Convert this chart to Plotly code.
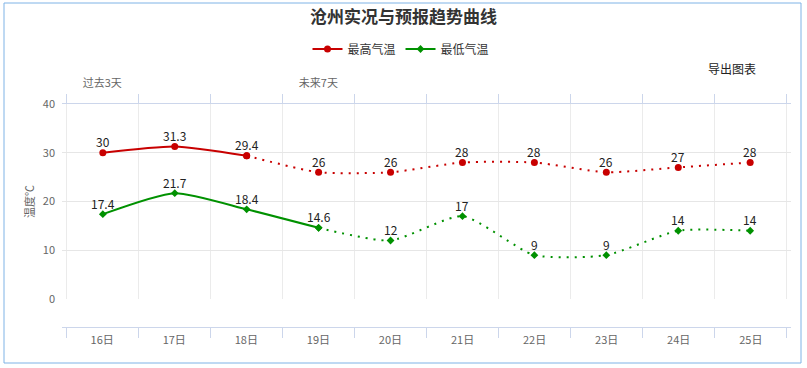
import plotly.graph_objects as go

days = ["16日", "17日", "18日", "19日", "20日", "21日", "22日", "23日", "24日", "25日"]
top_labels = ["过去3天", "", "", "未来7天", "", "", "", "", "", ""]
t_max = [30, 31.3, 29.4, 26, 26, 28, 28, 26, 27, 28]
t_min = [17.4, 21.7, 18.4, 14.6, 12, 17, 9, 9, 14, 14]
max_obs_end = 3   # observed points for max (indices 0..2)
min_obs_end = 4   # observed points for min (indices 0..3)

RED = "#c80000"
GREEN = "#009100"
FONT = "Noto Sans CJK SC"
SMOOTH = 0.6
DOT = "2px,6px"

L, R, T, B = 62, 16, 104, 41
PW = 807 - L - R
PH = 368 - T - B

fig = go.Figure()
annotations = []

def add_series(vals, obs_end, color, name, msym, msize):
    fig.add_trace(go.Scatter(
        x=days[:obs_end], y=vals[:obs_end], mode="lines+markers",
        name=name, legendgroup=name, showlegend=True,
        line=dict(color=color, width=2, shape="spline", smoothing=SMOOTH),
        marker=dict(color=color, size=msize, symbol=msym),
        cliponaxis=False, hoverinfo="x+y"))
    fig.add_trace(go.Scatter(
        x=days[obs_end - 1:], y=vals[obs_end - 1:], mode="lines+markers",
        name=name, legendgroup=name, showlegend=False,
        line=dict(color=color, width=2, shape="spline", smoothing=SMOOTH, dash=DOT),
        marker=dict(color=color, size=msize, symbol=msym),
        cliponaxis=False, hoverinfo="x+y"))
    for d, v in zip(days, vals):
        annotations.append(dict(x=d, y=v, xref="x", yref="y", text=str(v),
                                showarrow=False, yshift=11,
                                font=dict(size=12, color="#222", family=FONT)))

add_series(t_max, max_obs_end, RED, "最高气温", "circle", 7)
add_series(t_min, min_obs_end, GREEN, "最低气温", "diamond", 6)

# invisible traces to activate the top axis and the offset bottom axis
fig.add_trace(go.Scatter(x=days, y=t_max, xaxis="x2", mode="markers",
                         marker=dict(opacity=0), showlegend=False, hoverinfo="skip"))
fig.add_trace(go.Scatter(x=days, y=t_max, xaxis="x3", mode="markers",
                         marker=dict(opacity=0), showlegend=False, hoverinfo="skip"))

annotations.append(dict(text="导出图表", xref="paper", yref="paper",
                        x=(732 - L) / PW, y=1 + (T - 68) / PH,
                        xanchor="center", yanchor="middle",
                        showarrow=False, font=dict(size=12, color="#222", family=FONT)))

cat = dict(type="category", categoryorder="array", categoryarray=days,
           tickson="boundaries", automargin=False, fixedrange=True)

fig.update_layout(
    width=807, height=368,
    margin=dict(l=L, r=R, t=T, b=B, autoexpand=False),
    paper_bgcolor="white", plot_bgcolor="white",
    font=dict(family=FONT, size=11, color="#666"),
    title=dict(text="<b>沧州实况与预报趋势曲线</b>", x=0.5, xanchor="center",
               y=1 - 17 / 368, yanchor="middle",
               font=dict(size=17, color="#333", family=FONT)),
    legend=dict(orientation="h", x=(401 - L) / PW, xanchor="center",
                y=1 + 55 / PH, yanchor="middle",
                font=dict(size=12, color="#333", family=FONT), itemwidth=30,
                traceorder="normal"),
    xaxis=dict(**cat, anchor="y", showticklabels=False, ticks="",
               showline=False, showgrid=True, gridcolor="#ebebeb", gridwidth=1),
    xaxis2=dict(**cat, overlaying="x", side="top", anchor="y",
                tickmode="array", tickvals=days, ticktext=top_labels,
                ticks="outside", ticklen=9, tickcolor="#ccd6eb",
                showline=True, linecolor="#ccd6eb", linewidth=1,
                showgrid=False, ticklabelstandoff=12,
                tickfont=dict(size=11, color="#666")),
    xaxis3=dict(**cat, overlaying="x", anchor="free", position=0, side="bottom",
                ticks="outside", ticklen=10, tickcolor="#ccd6eb",
                showline=True, linecolor="#ccd6eb", linewidth=1, ticklabelstandoff=3,
                showgrid=False, tickfont=dict(size=11, color="#666")),
    yaxis=dict(domain=[28 / PH, 1], range=[0, 40], tickvals=[0, 10, 20, 30, 40],
               showgrid=True, gridcolor="#e6e6e6", zeroline=False, automargin=False,
               showline=False, ticks="", ticklabelstandoff=6,
               title=dict(text="温度℃", standoff=5, font=dict(size=11, color="#666")),
               tickfont=dict(size=11, color="#666"), fixedrange=True),
    annotations=annotations,
    shapes=[dict(type="rect", xref="paper", yref="paper",
                 x0=(4 - L) / PW, x1=(801 - L) / PW,
                 y0=-(363 - (368 - B)) / PH, y1=1 + (T - 3) / PH,
                 line=dict(color="#7fb3e6", width=1), fillcolor="rgba(0,0,0,0)",
                 layer="below")],
)

fig.write_html("out.html", config={"displayModeBar": False},
               post_script="document.body.style.margin='0';")
